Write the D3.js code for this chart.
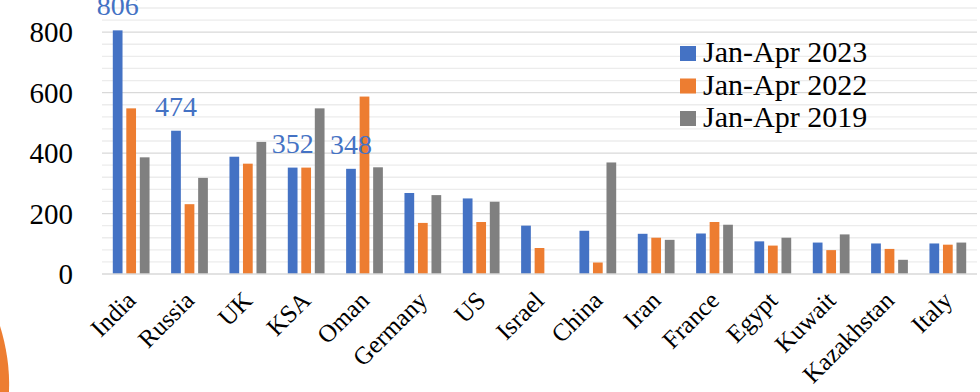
<!DOCTYPE html>
<html>
<head>
<meta charset="utf-8">
<script src="https://cdn.jsdelivr.net/npm/d3@7"></script>
<style>
  html, body { margin: 0; padding: 0; background: #fff; overflow: hidden; }
  text { font-family: "Liberation Serif", "Times New Roman", serif; }
</style>
</head>
<body>
<svg id="chart" width="980" height="392"></svg>
<script>
const countries = ["India", "Russia", "UK", "KSA", "Oman", "Germany", "US", "Israel", "China", "Iran", "France", "Egypt", "Kuwait", "Kazakhstan", "Italy"];
const seriesNames = ["Jan-Apr 2023", "Jan-Apr 2022", "Jan-Apr 2019"];
const jan2023 = [806, 474, 388, 352, 348, 268, 250, 160, 143, 133, 134, 108, 104, 101, 101];
const jan2022 = [548, 231, 365, 352, 587, 169, 172, 86, 38, 120, 172, 94, 79, 83, 97];
const jan2019 = [386, 318, 437, 548, 353, 261, 239, 0, 369, 113, 163, 120, 131, 47, 104];
const labelled = ["India", "Russia", "KSA", "Oman"];
const yTicks = [0, 200, 400, 600, 800];

const colors = ["#4472C4", "#ED7D31", "#808080"];
const series = [jan2023, jan2022, jan2019];

const svg = d3.select("#chart");
const plotLeft = 102, plotRight = 977, plotTop = 8, plotBottom = 274;

const x0 = d3.scaleBand()
    .domain(countries)
    .range([plotLeft, plotRight])
    .paddingInner(0.37)
    .paddingOuter(0.185);

const x1 = d3.scaleBand()
    .domain(d3.range(series.length))
    .range([0, x0.bandwidth()])
    .paddingInner(0.28);

const y = d3.scaleLinear()
    .domain([0, 880])
    .range([plotBottom, plotTop]);

// decorative arc from the slide background
svg.append("path")
    .attr("d", "M0,326 C6,345 10,368 9,392 L0,392 Z")
    .attr("fill", "#ED7D31");

// gridlines: minor every 40, major every 200
const grid = svg.append("g");
grid.selectAll("line")
    .data(d3.range(40, 881, 40))
    .enter()
    .append("line")
    .attr("x1", plotLeft)
    .attr("x2", plotRight)
    .attr("y1", d => y(d))
    .attr("y2", d => y(d))
    .attr("stroke", d => d % 200 === 0 ? "#d9d9d9" : "#ececec")
    .attr("stroke-width", 1.3);

// bars
const groups = svg.selectAll(".country")
    .data(countries)
    .enter()
    .append("g")
    .attr("class", "country")
    .attr("transform", d => `translate(${x0(d)},0)`);

groups.selectAll("rect")
    .data((c, i) => series.map((s, k) => ({ k, v: s[i] })))
    .enter()
    .append("rect")
    .attr("x", d => x1(d.k))
    .attr("width", x1.bandwidth())
    .attr("y", d => y(d.v))
    .attr("height", d => y(0) - y(d.v))
    .attr("fill", d => colors[d.k]);

// x axis line
svg.append("line")
    .attr("x1", plotLeft)
    .attr("x2", plotRight)
    .attr("y1", y(0))
    .attr("y2", y(0))
    .attr("stroke", "#d9d9d9")
    .attr("stroke-width", 1.5);

// data labels
svg.selectAll(".dlabel")
    .data(labelled)
    .enter()
    .append("text")
    .attr("class", "dlabel")
    .attr("x", d => x0(d) + x1(0) + x1.bandwidth() / 2)
    .attr("y", d => y(jan2023[countries.indexOf(d)]) - 15)
    .attr("text-anchor", "middle")
    .attr("font-size", 28)
    .attr("fill", "#4472C4")
    .text(d => jan2023[countries.indexOf(d)]);

// y tick labels
svg.selectAll(".ytick")
    .data(yTicks)
    .enter()
    .append("text")
    .attr("class", "ytick")
    .attr("x", 73)
    .attr("y", d => y(d))
    .attr("dy", "0.35em")
    .attr("text-anchor", "end")
    .attr("font-size", 29)
    .attr("fill", "#000")
    .text(d => d);

// x labels, rotated
svg.selectAll(".xlabel")
    .data(countries)
    .enter()
    .append("text")
    .attr("class", "xlabel")
    .attr("transform", d => `translate(${x0(d) + x0.bandwidth() / 2 + 6},302) rotate(-45)`)
    .attr("text-anchor", "end")
    .attr("font-size", 25)
    .attr("fill", "#000")
    .text(d => d);

// legend
const legend = svg.append("g").attr("transform", "translate(680,46)");
const items = legend.selectAll("g")
    .data(seriesNames)
    .enter()
    .append("g")
    .attr("transform", (d, i) => `translate(0,${i * 32.5})`);
items.append("rect")
    .attr("width", 16)
    .attr("height", 15)
    .attr("fill", (d, i) => colors[i]);
items.append("text")
    .attr("x", 23)
    .attr("y", 16)
    .attr("font-size", 30)
    .attr("fill", "#000")
    .text(d => d);
</script>
</body>
</html>
